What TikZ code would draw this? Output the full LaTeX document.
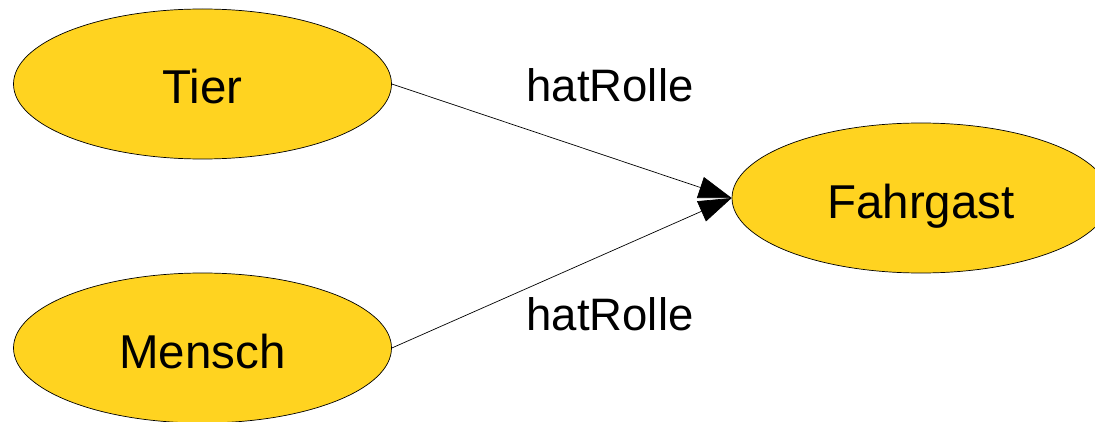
\documentclass[tikz,border=0pt]{standalone}
\usepackage{fontspec}
\setmainfont{Liberation Sans}
\usetikzlibrary{shapes.geometric,arrows.meta}
\definecolor{gold}{RGB}{255,211,32}
\begin{document}
\begin{tikzpicture}[x=1pt,y=1pt,
  concept/.style={ellipse,draw=black,line width=0.7pt,fill=gold,
    minimum width=378pt,minimum height=150pt,inner sep=0pt,
    text height=40pt,text depth=0pt,font=\fontsize{47.5}{57}\selectfont},
  rel/.style={draw=black,line width=0.7pt,-{Triangle[length=33pt,width=22pt]}},
  lbl/.style={anchor=base,inner sep=0pt,font=\fontsize{45.5}{55}\selectfont}]
\useasboundingbox (0,0) rectangle (1095,421);
\clip (0,0) rectangle (1095,421);
\node[concept] (tier) at (202.5,337) {Tier};
\node[concept] (mensch) at (202.5,73) {Mensch};
\node[concept] (fahrgast) at (921,223) {Fahrgast};
\draw[rel] (tier.east) -- (fahrgast.west);
\draw[rel] (mensch.east) -- (fahrgast.west);
\node[lbl] (l1) at (610,319) {hatRolle};
\node[lbl] (l2) at (610,91) {hatRolle};
\end{tikzpicture}
\end{document}
